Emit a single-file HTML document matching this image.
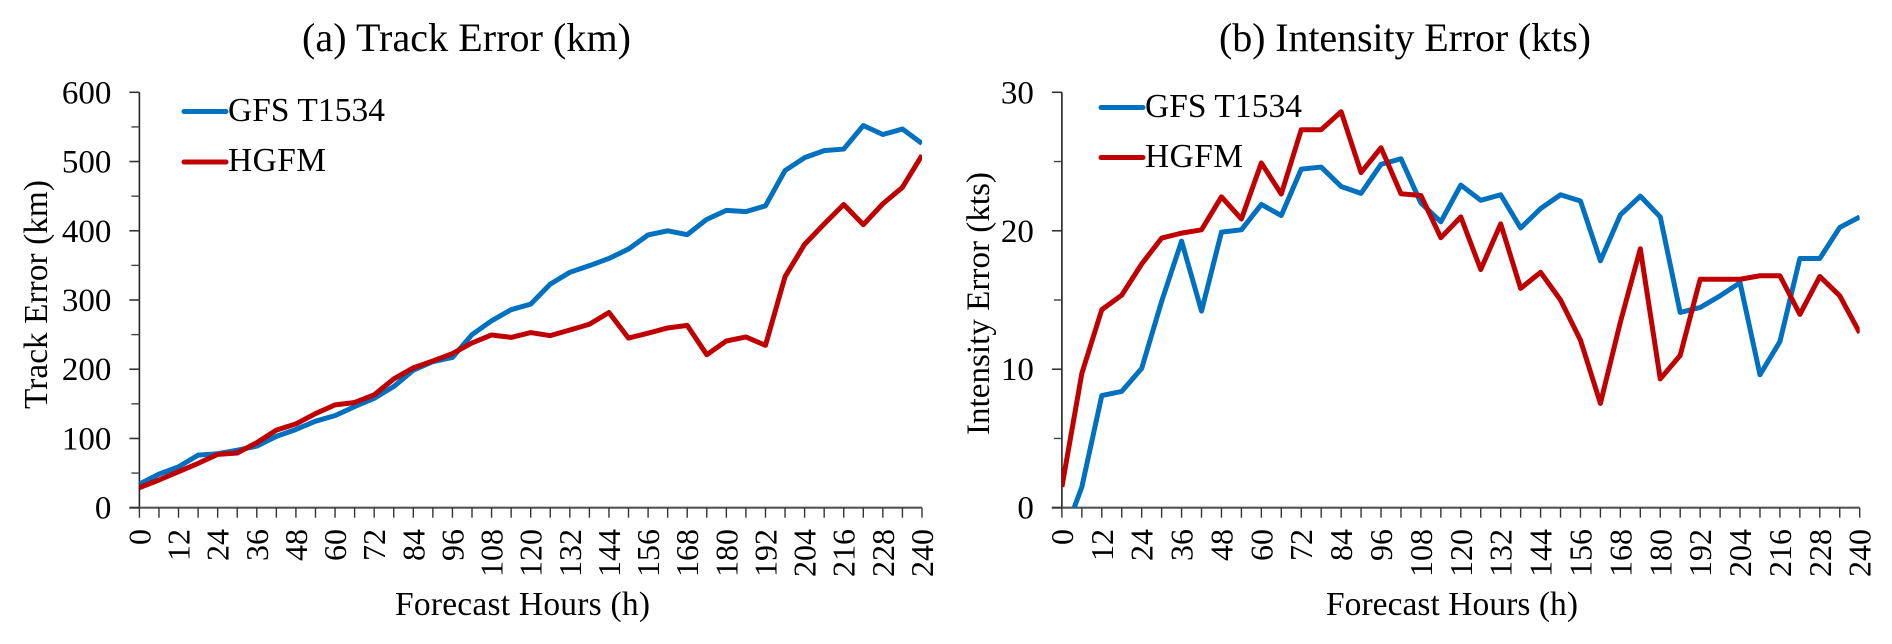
<!DOCTYPE html>
<html lang="en">
<head>
<meta charset="utf-8">
<title>Track and Intensity Error</title>
<style>
html,body{margin:0;padding:0;background:#fff;}
svg{display:block;filter:blur(0.35px);}
text{font-family:"Liberation Serif","Times New Roman",serif;fill:#000;}
</style>
</head>
<body>
<svg id="figure" xmlns="http://www.w3.org/2000/svg" width="1892" height="644" viewBox="0 0 1892 644">
  <defs>
    <clipPath id="clip-a"><rect x="139.4" y="60" width="782.6" height="447.7"></rect></clipPath>
    <clipPath id="clip-b"><rect x="1061.9" y="60" width="797.8" height="447.7"></rect></clipPath>
  </defs>
  <g id="panel-a">
    <text x="302" y="51" font-size="40" textLength="329" lengthAdjust="spacing">(a) Track Error (km)</text>
    <text transform="translate(47,294.5) rotate(-90)" text-anchor="middle" font-size="33.3" textLength="229" lengthAdjust="spacing">Track Error (km)</text>
    <text x="395" y="615" font-size="33.5" textLength="255" lengthAdjust="spacing">Forecast Hours (h)</text>
    <g id="axes-a"></g>
    <g id="series-a" clip-path="url(#clip-a)"></g>
    <g>
      <g>
        <line x1="184" y1="111.5" x2="226" y2="111.5" stroke="#0070C0" stroke-width="5" stroke-linecap="round"></line>
        <text x="228" y="121" font-size="33.4" textLength="157" lengthAdjust="spacing">GFS T1534</text>
      </g>
      <g>
        <line x1="184" y1="162" x2="226" y2="162" stroke="#C00000" stroke-width="5" stroke-linecap="round"></line>
        <text x="228" y="171" font-size="33.4" textLength="98" lengthAdjust="spacing">HGFM</text>
      </g>
    </g>
  </g>
  <g id="panel-b">
    <text x="1219" y="51" font-size="40" textLength="372" lengthAdjust="spacing">(b) Intensity Error (kts)</text>
    <text transform="translate(989,303.5) rotate(-90)" text-anchor="middle" font-size="33" textLength="263" lengthAdjust="spacing">Intensity Error (kts)</text>
    <text x="1326" y="615" font-size="33.5" textLength="252" lengthAdjust="spacing">Forecast Hours (h)</text>
    <g id="axes-b"></g>
    <g id="series-b" clip-path="url(#clip-b)"></g>
    <g>
      <g>
        <line x1="1101" y1="107.5" x2="1143" y2="107.5" stroke="#0070C0" stroke-width="5" stroke-linecap="round"></line>
        <text x="1145" y="117" font-size="33.4" textLength="157" lengthAdjust="spacing">GFS T1534</text>
      </g>
      <g>
        <line x1="1101" y1="157.5" x2="1143" y2="157.5" stroke="#C00000" stroke-width="5" stroke-linecap="round"></line>
        <text x="1145" y="167" font-size="33.4" textLength="98" lengthAdjust="spacing">HGFM</text>
      </g>
    </g>
  </g>
</svg>
<script>
var hours = [0,6,12,18,24,30,36,42,48,54,60,66,72,78,84,90,96,102,108,114,120,126,132,138,144,150,156,162,168,174,180,186,192,198,204,210,216,222,228,234,240];
var xTickLabels = [0,12,24,36,48,60,72,84,96,108,120,132,144,156,168,180,192,204,216,228,240];

var trackTicks = [0,100,200,300,400,500,600];
var trackMinorTicks = [50,150,250,350,450,550];
var trackGFS = [34,48.5,59,76,78,83,89,103,113,125,133,146,158,175,198.6,211,217,250,270,286,294,323,340,349.6,360,373.6,394,400,394.4,416.5,429.5,427.6,436,487,505.6,515.7,518,552,539,547,526];
var trackHGFM = [29,40,52,64,77,79,94,112,121,136,148.5,152,163,186,202,212,222.6,238,249.5,246,253,248.5,256.7,265,282,245,252,259.6,263.4,221,240.8,246.6,234.5,333.7,380.4,409.8,438,408.8,439,462.7,509];

var intensityTicks = [0,10,20,30];
var intensityMinorTicks = [5,15,25];
var intensityGFS = [-2.4,1.5,8.1,8.4,10.06,14.9,19.25,14.2,19.9,20.07,21.9,21.1,24.45,24.6,23.2,22.7,24.8,25.2,22,20.65,23.3,22.2,22.6,20.2,21.6,22.6,22.15,17.83,21.15,22.5,21,14.1,14.46,15.3,16.25,9.6,12,18,18,20.24,21];
var intensityHGFM = [1.5,9.7,14.3,15.35,17.6,19.47,19.83,20.07,22.45,20.85,24.9,22.65,27.3,27.3,28.6,24.2,26,22.67,22.55,19.5,21,17.2,20.5,15.84,17,15,12.1,7.53,13.4,18.7,9.3,11,16.5,16.5,16.5,16.75,16.75,13.96,16.7,15.3,12.63];

var SVGNS = 'http://www.w3.org/2000/svg';

function makeEl(tag, parent) {
  var el = document.createElementNS(SVGNS, tag);
  parent.appendChild(el);
  return el;
}
function setLine(el, x1, y1, x2, y2, color, width) {
  el.setAttribute('x1', x1);
  el.setAttribute('y1', y1);
  el.setAttribute('x2', x2);
  el.setAttribute('y2', y2);
  el.setAttribute('stroke', color);
  el.setAttribute('stroke-width', width);
}

function drawPanel(axesId, seriesId, x0, x1, yMax, majorTicks, minorTicks, gfsValues, hgfmValues) {
  var yTop = 92.3, yBottom = 507.7, xMax = 240;
  var xScale = function (h) { return x0 + (h / xMax) * (x1 - x0); };
  var yScale = function (v) { return yBottom - (v / yMax) * (yBottom - yTop); };
  var axes = document.getElementById(axesId);
  var series = document.getElementById(seriesId);

  var yAxis = makeEl('line', axes);
  
  
  setLine(yAxis, x0, yTop, x0, yBottom, '#222', 1.6);

  var xAxis = makeEl('line', axes);
  
  
  setLine(xAxis, x0 - 10, yBottom, x1, yBottom, '#555', 2.2);

  majorTicks.forEach(function (v) {
    var t = makeEl('line', axes);
    
    
    setLine(t, x0 - 10, yScale(v), x0, yScale(v), '#333', 1.6);
    var label = makeEl('text', axes);
    
    
    label.setAttribute('x', x0 - 28);
    label.setAttribute('y', yScale(v) + 11);
    label.setAttribute('text-anchor', 'end');
    label.setAttribute('font-size', '33');
    label.textContent = v;
  });

  minorTicks.forEach(function (v) {
    var t = makeEl('line', axes);
    
    
    setLine(t, x0 - 8, yScale(v), x0, yScale(v), '#444', 1.4);
  });

  hours.forEach(function (h) {
    var t = makeEl('line', axes);
    
    
    setLine(t, xScale(h), yBottom, xScale(h), yBottom + 10, '#333', 1.4);
  });

  xTickLabels.forEach(function (h) {
    var label = makeEl('text', axes);
    
    
    label.setAttribute('transform', 'translate(' + (xScale(h) + 11) + ',529) rotate(-90)');
    label.setAttribute('text-anchor', 'end');
    label.setAttribute('font-size', '32');
    label.textContent = h;
  });

  var toPoints = function (values) {
    return values.map(function (v, i) {
      return xScale(hours[i]).toFixed(2) + ',' + yScale(v).toFixed(2);
    }).join(' ');
  };

  var gfs = makeEl('polyline', series);
  
  
  gfs.setAttribute('points', toPoints(gfsValues));
  gfs.setAttribute('fill', 'none');
  gfs.setAttribute('stroke', '#0070C0');
  gfs.setAttribute('stroke-width', '5');
  gfs.setAttribute('stroke-linejoin', 'round');

  var hgfm = makeEl('polyline', series);
  
  
  hgfm.setAttribute('points', toPoints(hgfmValues));
  hgfm.setAttribute('fill', 'none');
  hgfm.setAttribute('stroke', '#C00000');
  hgfm.setAttribute('stroke-width', '5');
  hgfm.setAttribute('stroke-linejoin', 'round');
}

drawPanel('axes-a', 'series-a', 139.4, 922, 600, trackTicks, trackMinorTicks, trackGFS, trackHGFM);
drawPanel('axes-b', 'series-b', 1061.9, 1859.7, 30, intensityTicks, intensityMinorTicks, intensityGFS, intensityHGFM);
</script>
</body>
</html>
